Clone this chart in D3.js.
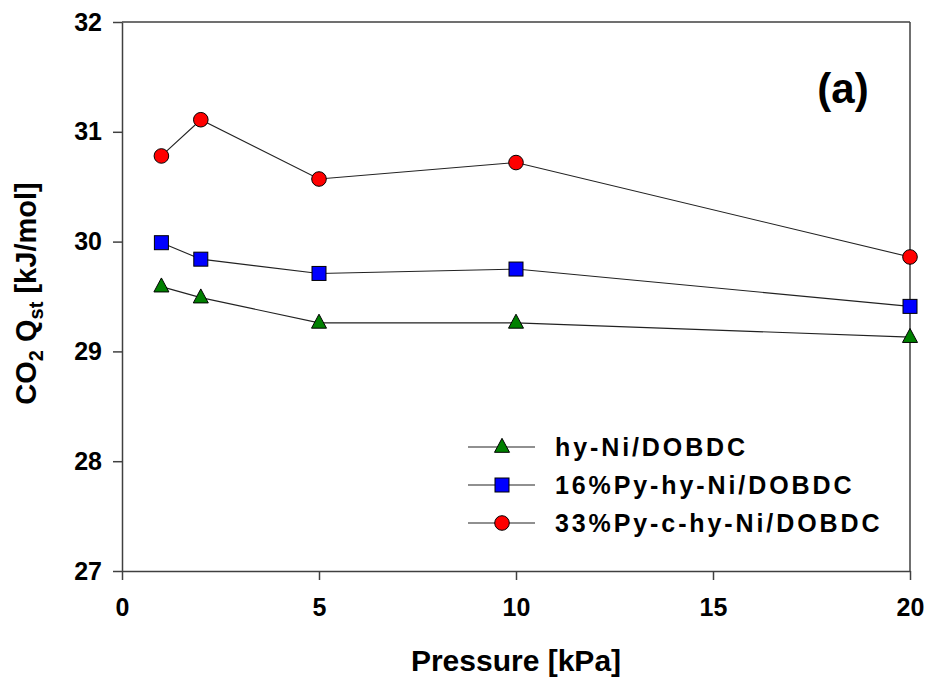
<!DOCTYPE html>
<html>
<head>
<meta charset="utf-8">
<script src="https://cdn.jsdelivr.net/npm/d3@7"></script>
<style>
  html, body { margin: 0; padding: 0; background: #fff; }
  svg { display: block; font-family: "Liberation Sans", Arial, sans-serif; }
</style>
</head>
<body>
<svg id="chart" width="930" height="679"></svg>
<script>
// Pressure points (kPa)
const pressures = [1, 2, 5, 10, 20];

// Isosteric heat of CO2 adsorption (kJ/mol) per material
const hyNi = [29.59, 29.49, 29.26, 29.26, 29.13];
const py16 = [29.99, 29.84, 29.71, 29.75, 29.41];
const py33 = [30.78, 31.11, 30.57, 30.72, 29.86];

const seriesNames = ["hy-Ni/DOBDC", "16%Py-hy-Ni/DOBDC", "33%Py-c-hy-Ni/DOBDC"];
const seriesColors = ["#008000", "#0000ff", "#ff0000"];
const seriesShapes = ["triangle", "square", "circle"];

const xTicks = [0, 5, 10, 15, 20];
const yTicks = [27, 28, 29, 30, 31, 32];

const series = [hyNi, py16, py33].map((vals, i) => ({
  name: seriesNames[i], color: seriesColors[i], shape: seriesShapes[i],
  points: pressures.map((p, j) => ({ x: p, y: vals[j] }))
}));

const svg = d3.select("#chart");
const plotLeft = 122, plotRight = 910, plotTop = 22, plotBottom = 571;

const x = d3.scaleLinear().domain([0, 20]).range([plotLeft, plotRight]);
const y = d3.scaleLinear().domain([27, 32]).range([plotBottom, plotTop]);

const axisColor = "#404040";

// frame: top and right edges
svg.append("line").attr("x1", plotLeft).attr("x2", plotRight).attr("y1", plotTop).attr("y2", plotTop)
  .attr("stroke", axisColor).attr("stroke-width", 1.5);
svg.append("line").attr("x1", plotRight).attr("x2", plotRight).attr("y1", plotTop).attr("y2", plotBottom)
  .attr("stroke", axisColor).attr("stroke-width", 1.5);

// x axis
const gx = svg.append("g").attr("transform", `translate(0,${plotBottom})`)
  .call(d3.axisBottom(x).tickValues(xTicks).tickFormat(d3.format("d"))
    .tickSize(9).tickPadding(18).tickSizeOuter(0));
// y axis
const gy = svg.append("g").attr("transform", `translate(${plotLeft},0)`)
  .call(d3.axisLeft(y).tickValues(yTicks).tickFormat(d3.format("d"))
    .tickSize(9).tickPadding(11).tickSizeOuter(0));

[gx, gy].forEach(g => {
  g.select(".domain").attr("stroke", axisColor).attr("stroke-width", 1.5);
  g.selectAll(".tick line").attr("stroke", axisColor).attr("stroke-width", 1.5);
  g.selectAll(".tick text").attr("fill", "#000").attr("font-size", 25)
    .attr("font-weight", "bold").attr("font-family", "'Liberation Sans', Arial, sans-serif");
});

// axis titles
svg.append("text").attr("x", x(10)).attr("y", 671).attr("text-anchor", "middle")
  .attr("font-size", 30).attr("font-weight", "bold").text("Pressure [kPa]");

const yt = svg.append("text").attr("transform", `translate(36,${(182 + 405) / 2}) rotate(-90)`)
  .attr("text-anchor", "middle").attr("font-size", 29).attr("font-weight", "bold");
yt.append("tspan").text("CO");
yt.append("tspan").attr("font-size", 20).attr("dy", 7).text("2");
yt.append("tspan").attr("dy", -7).text(" Q");
yt.append("tspan").attr("font-size", 20).attr("dy", 7).text("st");
yt.append("tspan").attr("dy", -7).text(" [kJ/mol]");

// panel label
svg.append("text").attr("x", 843).attr("y", 103).attr("text-anchor", "middle")
  .attr("font-size", 42).attr("font-weight", "bold").text("(a)");

const line = d3.line().x(d => x(d.x)).y(d => y(d.y));

function drawMarker(g, shape, color, cx, cy) {
  if (shape === "circle") {
    g.append("circle").attr("cx", cx).attr("cy", cy).attr("r", 7.3)
      .attr("fill", color).attr("stroke", "#000").attr("stroke-width", 1);
  } else if (shape === "square") {
    g.append("rect").attr("x", cx - 7).attr("y", cy - 7).attr("width", 14).attr("height", 14)
      .attr("fill", color).attr("stroke", "#000").attr("stroke-width", 1);
  } else {
    const h = 14, w = 15;
    g.append("path")
      .attr("d", `M${cx},${cy - h * 0.62}L${cx + w / 2},${cy + h * 0.38}L${cx - w / 2},${cy + h * 0.38}Z`)
      .attr("fill", color).attr("stroke", "#000").attr("stroke-width", 1);
  }
}

// series lines then markers
series.forEach(s => {
  svg.append("path").datum(s.points).attr("d", line)
    .attr("fill", "none").attr("stroke", "#222").attr("stroke-width", 1.1);
});
series.forEach(s => {
  const g = svg.append("g");
  s.points.forEach(p => drawMarker(g, s.shape, s.color, x(p.x), y(p.y)));
});

// legend
const legendRows = [447, 485, 523];
series.forEach((s, i) => {
  const ly = legendRows[i];
  const g = svg.append("g");
  g.append("line").attr("x1", 468).attr("x2", 535).attr("y1", ly).attr("y2", ly)
    .attr("stroke", "#222").attr("stroke-width", 1.1);
  drawMarker(g, s.shape, s.color, 502, ly);
  g.append("text").attr("x", 555).attr("y", ly + 9).attr("font-size", 25)
    .attr("font-weight", "bold").attr("letter-spacing", 2.9).text(s.name);
});
</script>
</body>
</html>
